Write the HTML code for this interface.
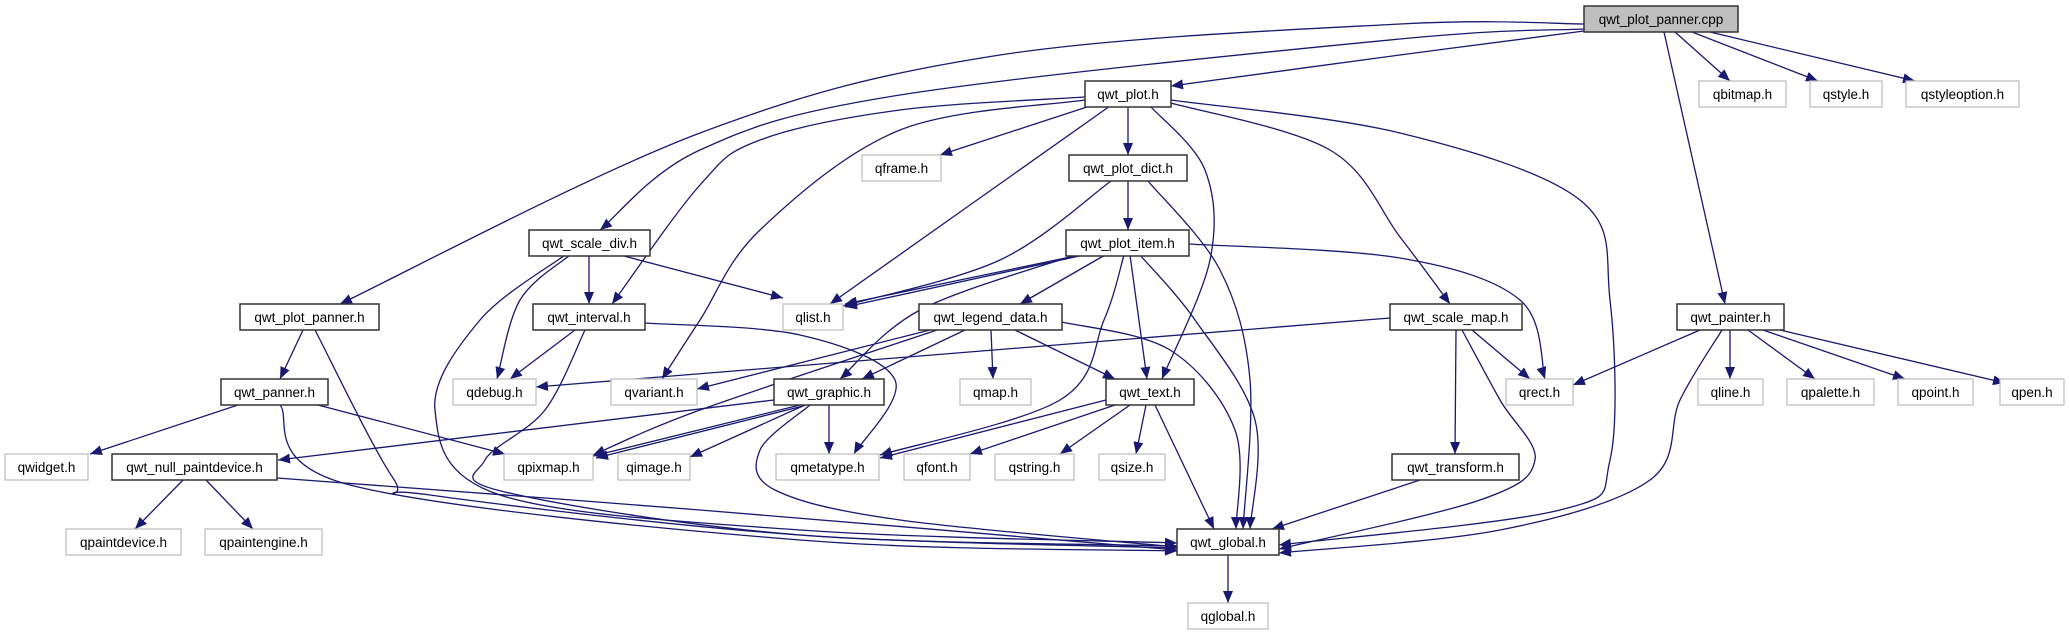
<!DOCTYPE html>
<html><head><meta charset="utf-8"><style>
html,body{margin:0;padding:0;background:#fff;width:2069px;height:635px;overflow:hidden}
svg text{font-family:"Liberation Sans",sans-serif;font-size:13.5px;fill:#000}
</style></head><body>
<svg id="s" width="2069" height="635" viewBox="0 0 2069 635" xmlns="http://www.w3.org/2000/svg">
<defs><marker id="a" markerUnits="userSpaceOnUse" markerWidth="14" markerHeight="12" refX="12" refY="5" orient="auto"><path d="M0,0 L12,5 L0,10 Z" fill="#191970"/></marker></defs>
<g id="edges" fill="none" stroke="#191970" stroke-width="1.3"></g>
<g id="nodes"></g>
</svg>
<script>
var R=[6,81,155,230,304,379,454,529,603];
var N=[
["qwt_plot_panner.cpp",1584,1738,0,2],
["qwt_plot.h",1085,1171,1,1],["qbitmap.h",1699,1786,1,0],["qstyle.h",1810,1882,1,0],["qstyleoption.h",1906,2019,1,0],
["qframe.h",862,941,2,0],["qwt_plot_dict.h",1069,1187,2,1],
["qwt_scale_div.h",529,650,3,1],["qwt_plot_item.h",1066,1189,3,1],
["qwt_plot_panner.h",240,379,4,1],["qwt_interval.h",533,645,4,1],["qlist.h",783,843,4,0],["qwt_legend_data.h",919,1062,4,1],["qwt_scale_map.h",1390,1522,4,1],["qwt_painter.h",1677,1784,4,1],
["qwt_panner.h",221,328,5,1],["qdebug.h",453,536,5,0],["qvariant.h",611,697,5,0],["qwt_graphic.h",774,884,5,1],["qmap.h",960,1031,5,0],["qwt_text.h",1106,1194,5,1],["qrect.h",1506,1573,5,0],["qline.h",1698,1763,5,0],["qpalette.h",1787,1874,5,0],["qpoint.h",1898,1973,5,0],["qpen.h",2000,2064,5,0],
["qwidget.h",5,88,6,0],["qwt_null_paintdevice.h",112,277,6,1],["qpixmap.h",504,593,6,0],["qimage.h",618,690,6,0],["qmetatype.h",776,879,6,0],["qfont.h",904,970,6,0],["qstring.h",995,1074,6,0],["qsize.h",1099,1165,6,0],["qwt_transform.h",1392,1519,6,1],
["qpaintdevice.h",66,181,7,0],["qpaintengine.h",205,322,7,0],["qwt_global.h",1177,1279,7,1],
["qglobal.h",1188,1268,8,0]];
var E=[
[[1584,24],[1400,24],[1000,55],[700,133],[340,304]],
[[1584,29],[1400,39],[900,95],[700,150],[600,230]],
[[1584,31],[1400,55],[1171,86]],
[[1675,32],[1730,81]],[[1692,32],[1818,81]],[[1710,32],[1915,81]],[[1664,32],[1725,304]],
[[1090,106],[940,155]],[[1128,106],[1128,155]],[[1110,106],[830,304]],
[[1085,97],[900,110],[760,140],[700,185],[612,304]],
[[1085,100],[900,130],[760,230],[700,320],[662,379]],
[[1150,106],[1205,170],[1210,260],[1162,379]],
[[1171,100],[1400,133],[1580,200],[1610,300],[1610,460],[1560,510],[1279,545]],
[[1171,103],[1330,150],[1400,237],[1450,304]],
[[1128,181],[1128,230]],
[[1111,181],[1000,260],[843,306]],
[[1148,181],[1220,270],[1250,380],[1243,529]],
[[1080,255],[845,304]],[[1084,255],[845,307]],
[[1105,255],[1020,304]],
[[1075,255],[920,310],[840,379]],
[[1130,255],[1147,379]],
[[1124,255],[1104,320],[1060,400],[880,455]],
[[1140,255],[1195,320],[1255,420],[1250,529]],
[[1189,244],[1400,258],[1520,300],[1545,379]],
[[589,255],[589,304]],[[620,255],[783,298]],
[[570,255],[520,300],[497,379]],
[[565,255],[480,320],[435,410],[500,495],[800,530],[1177,543]],
[[575,330],[510,379]],
[[645,323],[800,335],[895,380],[854,454]],
[[585,330],[545,410],[485,460],[505,492],[800,535],[1177,546]],
[[303,330],[280,379]],
[[315,330],[393,478],[430,495],[800,535],[1177,548]],
[[238,405],[90,454]],[[318,405],[505,454]],
[[280,405],[350,485],[800,540],[1177,551]],
[[1390,318],[536,387]],
[[930,330],[697,389]],
[[937,330],[700,410],[593,455]],
[[965,330],[862,379]],[[991,330],[993,379]],[[1015,330],[1115,379]],
[[1062,322],[1170,350],[1235,430],[1236,529]],
[[1472,330],[1530,379]],[[1456,330],[1455,454]],
[[1462,330],[1500,400],[1535,460],[1480,500],[1279,549]],
[[1700,330],[1573,385]],[[1730,330],[1730,379]],[[1748,330],[1815,379]],[[1763,330],[1905,379]],[[1780,330],[2005,383]],
[[1722,330],[1680,400],[1650,480],[1500,530],[1279,553]],
[[774,400],[278,460]],
[[800,405],[593,456]],[[803,406],[596,458]],[[805,405],[690,457]],[[829,405],[829,454]],
[[810,405],[760,450],[775,490],[900,520],[1177,547]],
[[1106,400],[880,458]],[[1115,405],[970,454]],[[1130,405],[1060,454]],[[1146,405],[1136,454]],[[1155,405],[1214,529]],
[[183,480],[135,529]],[[206,480],[253,529]],[[277,478],[700,510],[1177,550]],
[[1420,480],[1272,529]],
[[1228,555],[1228,603]]];
var NS="http://www.w3.org/2000/svg";
function path(p){
 if(p.length==2)return "M"+p[0]+" L"+p[1];
 var d="M"+p[0][0]+","+p[0][1];
 for(var i=0;i<p.length-1;i++){
  var p0=p[i-1]||p[i],p1=p[i],p2=p[i+1],p3=p[i+2]||p2;
  var c1=[p1[0]+(p2[0]-p0[0])/6,p1[1]+(p2[1]-p0[1])/6];
  var c2=[p2[0]-(p3[0]-p1[0])/6,p2[1]-(p3[1]-p1[1])/6];
  d+=" C"+c1+" "+c2+" "+p2;
 }
 return d;
}
var eg=document.getElementById("edges");
E.forEach(function(p){var e=document.createElementNS(NS,"path");e.setAttribute("d",path(p));e.setAttribute("marker-end","url(#a)");eg.appendChild(e);});
var ng=document.getElementById("nodes");
N.forEach(function(n){
 var y=R[n[3]],r=document.createElementNS(NS,"rect");
 r.setAttribute("x",n[1]);r.setAttribute("y",y);r.setAttribute("width",n[2]-n[1]);r.setAttribute("height",26);
 r.setAttribute("fill",n[4]==2?"#bfbfbf":"#fff");
 r.setAttribute("stroke",n[4]==0?"#bfbfbf":"#333");r.setAttribute("stroke-width",n[4]==0?1.3:1.5);
 ng.appendChild(r);
 var t=document.createElementNS(NS,"text");
 t.setAttribute("x",(n[1]+n[2])/2);t.setAttribute("y",y+18);t.setAttribute("text-anchor","middle");
 t.textContent=n[0];ng.appendChild(t);
});
</script>
</body></html>
